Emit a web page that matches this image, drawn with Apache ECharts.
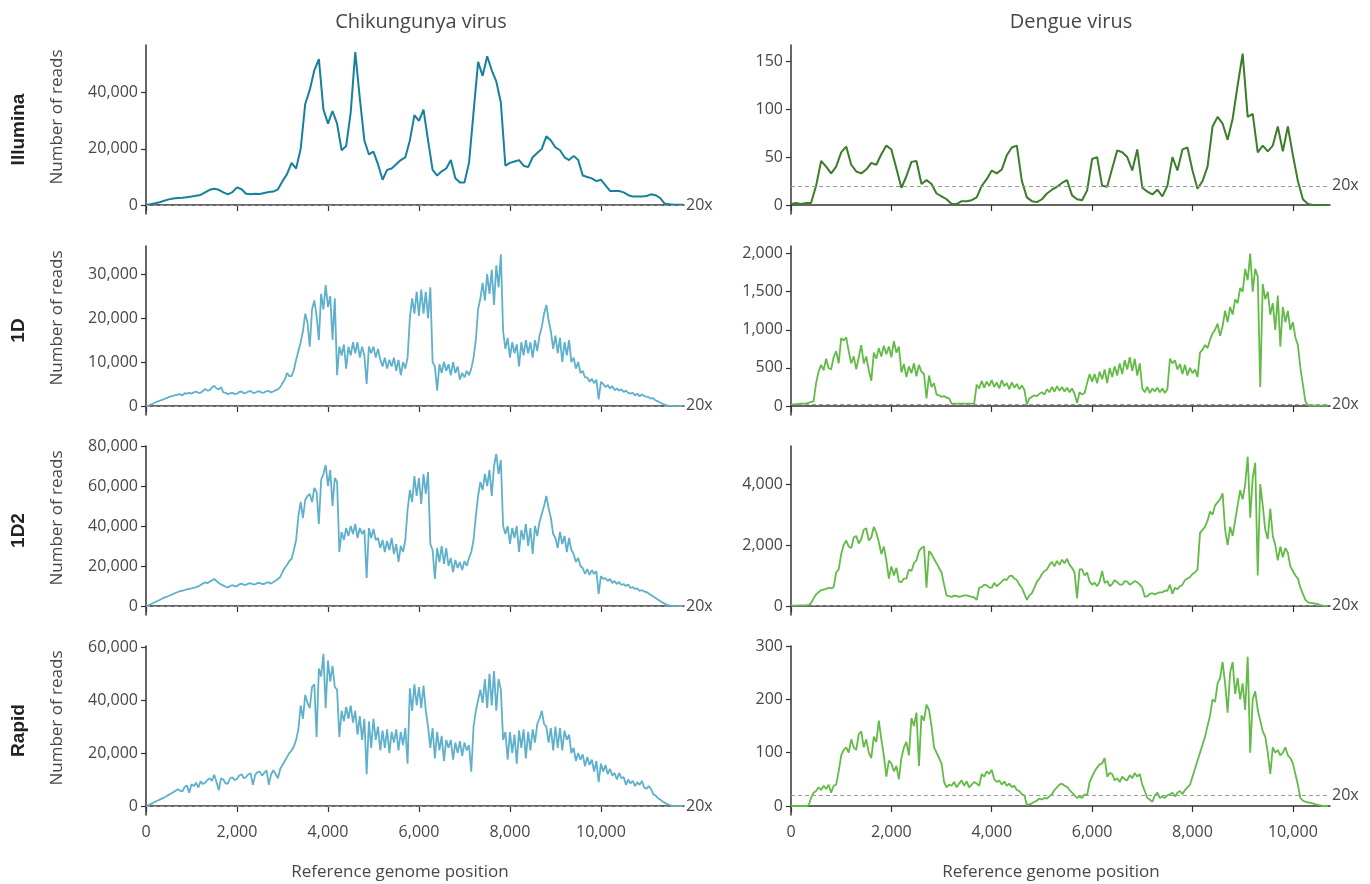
<!DOCTYPE html>
<html>
<head>
<meta charset="utf-8">
<script src="https://cdn.jsdelivr.net/npm/echarts@6/dist/echarts.min.js"></script>
<style>
  html, body { margin: 0; padding: 0; background: #ffffff; }
  #chart { width: 1370px; height: 884px; }
</style>
</head>
<body>
<div id="chart"></div>
<script>
// Genome lengths (bp) and coverage bin widths
const chikLength = 11826;
const dengueLength = 10740;
const illuminaBin = 100;
const nanoporeBin = 50;

const xTicks = [0, 2000, 4000, 6000, 8000, 10000];
const rowNames = ['Illumina', '1D', '1D2', 'Rapid'];
const columnTitles = ['Chikungunya virus', 'Dengue virus'];
const thresholdReads = 20;

// Read depth, Chikungunya virus (Illumina: 100 bp bins, nanopore: 50 bp bins)
const chikIllumina = [
  0, 300, 600, 1000, 1500, 2000, 2300, 2500, 2600, 2800, 3000, 3300, 3600, 4500, 5400, 5800, 5400, 4500, 3800, 4600,
  6300, 5600, 4000, 3800, 4000, 3900, 4300, 4600, 4800, 5600, 8500,
  11000, 15000, 13000, 20000, 36000, 41000, 48000, 52000, 34000, 29000,
  33500, 29000, 19500, 21000, 33000, 54500, 38000, 23000, 18000, 19000,
  14500, 9000, 12500, 13000, 14500, 16000, 17000, 23000, 32000, 30000,
  34000, 23000, 12500, 10500, 12000, 13000, 16000, 9500, 8000, 8000,
  15000, 33000, 51000, 46000, 53000, 48000, 44000, 36500, 14000, 15000,
  15500, 16000, 14000, 13500, 17000, 18500, 20000, 24500, 23000, 20500,
  19500, 17000, 16000, 17500, 16000, 10500, 10000, 9500, 8500, 9000,
  7000, 5000, 5000, 5000, 4500, 3500, 3000, 3000, 3000, 3200,
  3800, 3500, 2500, 500, 300, 100, 50, 50
];
const chik1D = [
  0, 100, 300, 500, 800, 1000, 1200, 1400, 1600, 1800, 2000, 2200, 2300, 2500, 2600, 2700, 2400, 2900, 2800, 3000,
  2800, 3100, 3300, 3000, 3000, 3400, 3900, 3500, 3600, 4200, 4600, 4000, 3800, 4300, 3100, 3000, 2700, 2900, 3000, 2700,
  2800, 3200, 3300, 2900, 3000, 3300, 3400, 3000, 3000, 3300, 3300, 3000, 3100, 3400, 3400, 3100, 3300, 3600, 3800, 4300,
  5200, 6000, 7500, 6800, 6800, 8200, 10500, 12500, 14500, 17000, 21000, 19000, 13500, 22000, 24000, 20500, 15000, 25500, 22000, 27500,
  22500, 25000, 15000, 24500, 7000, 13500, 11500, 14000, 8500, 13500, 11500, 14500, 12000, 14500, 11000, 13500, 11500, 5000, 13500, 12000,
  13500, 11000, 13000, 10500, 9000, 11000, 8500, 10500, 9000, 11000, 8000, 10500, 7000, 10000, 8500, 11000, 20000, 24500, 21000, 26000,
  20500, 26500, 21000, 26000, 20000, 27000, 10000, 9000, 3500, 9500, 7500, 10000, 8000, 9500, 7000, 10000, 7500, 9000, 6000, 7500,
  6500, 8000, 7000, 8500, 11000, 15000, 22000, 24500, 28000, 24000, 30000, 25500, 31000, 23000, 32000, 27000, 34500, 17000, 13000, 15500,
  11000, 14500, 12000, 14000, 9000, 14500, 11500, 15000, 12000, 14500, 11000, 15000, 12500, 16000, 18000, 21000, 23000, 19500, 17000, 13000,
  16000, 12000, 15500, 10000, 14500, 11500, 15000, 10000, 11000, 8500, 10000, 7500, 8000, 6500, 6500, 5500, 6200, 5200, 6000, 1500,
  5500, 5000, 4300, 4800, 4000, 4500, 3600, 4000, 3500, 3800, 3200, 3500, 3000, 2800, 3000, 2400, 2800, 2200, 2600, 2300,
  2100, 2000, 1700, 1800, 1300, 1100, 800, 500, 300, 150, 50, 30, 20, 20, 20, 20, 20
];
const chik1D2 = [
  0, 300, 800, 1400, 2000, 2500, 3000, 3600, 4200, 4600, 5000, 5600, 6000, 6600, 7000, 7500, 7600, 8000, 8300, 8600,
  8800, 9100, 9400, 9800, 10500, 11200, 11800, 11400, 12200, 12800, 13500, 12500, 11500, 10800, 10200, 9600, 9300, 10000, 10500, 9800,
  10000, 10800, 11200, 10600, 10600, 11200, 11400, 10800, 10800, 11500, 11500, 11000, 11000, 11700, 11800, 11200, 12000, 12600, 13500, 14500,
  17000, 19000, 20500, 22500, 23500, 28000, 33000, 45000, 52000, 44000, 53000, 55000, 56000, 52000, 59000, 57000, 41000, 63000, 66000, 70500,
  60000, 68000, 50000, 64000, 62000, 27000, 37000, 33000, 39000, 35000, 40000, 36000, 41000, 34000, 39000, 36000, 38000, 14000, 39000, 34000,
  38500, 33000, 34000, 29000, 33000, 27000, 32500, 28000, 34000, 26000, 31000, 22000, 30000, 27000, 33000, 48000, 58000, 52000, 65000, 55000,
  64000, 51000, 66000, 56000, 67000, 31000, 28000, 13500, 29000, 22000, 30000, 21000, 29000, 20000, 24000, 17000, 23000, 19000, 22000, 18000,
  22500, 20000, 24000, 27000, 33000, 45000, 55000, 62000, 58000, 66000, 60000, 68000, 55000, 70000, 76000, 66000, 73000, 40000, 36000, 40000,
  31000, 39000, 34000, 40000, 27000, 38000, 33000, 41000, 30000, 39000, 26000, 40000, 35000, 42000, 46000, 50000, 55000, 49000, 44000, 36000,
  34000, 29000, 37000, 31000, 35000, 27000, 34000, 28000, 26000, 22000, 24000, 20000, 19000, 16000, 18500, 15500, 18000, 16000, 17500, 6000,
  15000, 13500, 14000, 12500, 13500, 11500, 12500, 11000, 12000, 10500, 11000, 10000, 10800, 9000, 9500, 8500, 8800, 7500, 8000, 7200,
  7000, 6200, 5500, 4800, 4000, 3200, 2500, 1800, 1200, 600, 300, 100, 50, 20, 20, 20, 20
];
const chikRapid = [
  0, 300, 700, 1100, 1600, 2000, 2400, 2800, 3200, 3700, 4200, 4700, 5200, 5800, 6300, 5800, 5500, 7200, 7800, 5000,
  8200, 7500, 8800, 7000, 9300, 8300, 8800, 9800, 10500, 9500, 11800, 9000, 6000, 10500, 10000, 8500, 8500, 10500, 10800, 9800,
  10200, 11500, 12000, 10500, 11000, 12000, 12300, 8000, 11800, 12800, 13000, 11500, 12500, 13500, 8000, 12000, 13500, 12000, 10500, 14000,
  15500, 17000, 18500, 20000, 21000, 22500, 25000, 29000, 38000, 33000, 42000, 39000, 37000, 45000, 46000, 26000, 52000, 49000, 57500, 37000,
  55000, 47000, 53000, 45000, 44000, 26000, 36000, 32000, 37500, 33000, 38000, 31500, 36000, 27000, 34000, 25000, 33000, 12000, 32000, 22000,
  33000, 25000, 30000, 21000, 28500, 22000, 29000, 20000, 28000, 24000, 29000, 21000, 28000, 23000, 29500, 16000, 44500, 36000, 46000, 38000,
  45000, 37000, 45500, 36000, 30000, 22000, 29500, 18000, 28000, 21000, 26500, 17000, 25000, 22000, 25000, 17500, 24000, 20000, 24500, 19000,
  24000, 21000, 23000, 13000, 30000, 36000, 40000, 44000, 39000, 48000, 37000, 50000, 38000, 51000, 36000, 48000, 44000, 25000, 28000, 17500,
  28000, 20000, 27000, 16000, 28500, 22000, 29000, 18000, 28000, 21000, 29000, 24000, 31000, 33000, 36000, 31000, 30000, 24000, 29500, 21000,
  30000, 22000, 29500, 21000, 28500, 25000, 27000, 20000, 22000, 17000, 20000, 17500, 19500, 15000, 18500, 15500, 17500, 13000, 17000, 9000,
  16000, 13000, 15500, 12000, 14000, 11500, 12500, 10000, 12500, 10500, 11000, 8000, 10000, 8500, 9500, 7500, 9000, 8000, 9500, 7000,
  6500, 7500, 6500, 4500, 4000, 3000, 2500, 1800, 1200, 800, 400, 100, 50, 50, 50, 50, 50
];

// Read depth, Dengue virus (Illumina: 100 bp bins, nanopore: 50 bp bins)
const dengueIllumina = [
  1, 2, 1, 2, 2, 20, 46, 40, 33, 40, 55,
  61, 42, 35, 33, 37, 44, 42, 53, 62, 58,
  38, 18, 30, 45, 46, 22, 26, 22, 12, 9,
  6, 1, 1, 4, 4, 5, 8, 20, 27, 36,
  33, 37, 52, 60, 62, 25, 8, 4, 3, 6,
  12, 16, 19, 23, 26, 10, 6, 5, 15, 48,
  50, 20, 19, 38, 57, 55, 50, 36, 58, 18,
  14, 11, 16, 9, 20, 50, 36, 58, 60, 36,
  17, 25, 40, 82, 92, 85, 68, 90, 125, 158,
  92, 95, 55, 62, 56, 62, 82, 56, 82, 52,
  25, 6, 1, 0, 0, 0, 0
];
const dengue1D = [
  20, 22, 25, 28, 30, 32, 35, 40, 55, 60, 300, 450, 540, 470, 620, 500, 480, 640, 720, 560,
  890, 860, 900, 720, 560, 650, 480, 640, 800, 560, 650, 470, 330, 700, 620, 760, 650, 790, 680, 780,
  640, 850, 700, 780, 440, 550, 380, 520, 430, 560, 390, 540, 450, 420, 100, 400, 250, 300, 150, 140,
  120, 130, 110, 100, 30, 30, 30, 30, 30, 30, 30, 30, 30, 30, 280, 230, 330, 240, 320, 260,
  340, 250, 310, 230, 340, 260, 300, 220, 310, 240, 290, 220, 270, 210, 20, 100, 120, 140, 130, 160,
  180, 150, 220, 180, 250, 190, 260, 200, 250, 190, 240, 180, 230, 160, 40, 180, 150, 170, 300, 420,
  320, 420, 300, 450, 350, 480, 300, 500, 380, 520, 400, 560, 420, 600, 480, 640, 460, 620, 400, 560,
  230, 180, 250, 170, 230, 190, 240, 180, 230, 170, 220, 620, 560, 600, 480, 550, 420, 540, 400, 500,
  430, 480, 380, 700, 740, 800, 760, 870, 950, 1000, 1080, 920, 1050, 1250, 1100, 1300, 1200, 1400, 1350, 1550,
  1500, 1800, 1650, 2000, 1500, 1800, 1700, 250, 1600, 1400, 1500, 1200, 1350, 1000, 1450, 780, 1300, 1100, 1250, 1000,
  1100, 900, 800, 500, 280, 60, 10, 5, 5, 5, 5, 5, 5, 5, 5
];
const dengue1D2 = [
  10, 12, 15, 18, 20, 22, 25, 30, 100, 250, 380, 450, 520, 540, 560, 600, 580, 620, 1100, 1200,
  1700, 2000, 2150, 1950, 1900, 2250, 2300, 2050, 2200, 2500, 2550, 2150, 2250, 2600, 2400, 2100, 1700, 1950, 1500, 900,
  1300, 1000, 1250, 800, 780, 900, 900, 1200, 1150, 1400, 1500, 1800, 1900, 1950, 600, 1800, 1700, 1550, 1400, 1250,
  1100, 700, 350, 320, 300, 340, 330, 300, 320, 350, 350, 320, 300, 280, 200, 600, 620, 700, 680, 600,
  600, 760, 650, 720, 800, 880, 850, 980, 1000, 900, 850, 700, 600, 400, 200, 350, 420, 600, 800, 900,
  1050, 1150, 1200, 1350, 1450, 1300, 1480, 1350, 1520, 1400, 1550, 1350, 1250, 1100, 250, 1200, 1200, 1000, 1100, 800,
  700, 760, 650, 800, 1150, 750, 820, 650, 720, 850, 780, 700, 700, 820, 800, 700, 750, 820, 780, 700,
  600, 300, 320, 400, 420, 380, 420, 450, 450, 500, 500, 700, 400, 600, 550, 650, 700, 850, 900, 950,
  1050, 1100, 1200, 2400, 2500, 2600, 2800, 3100, 3000, 3300, 3400, 3500, 3700, 2500, 2000, 2600, 2300, 2800, 3300, 3800,
  3500, 4000, 4900, 2900, 4200, 4700, 1000, 4000, 3300, 2500, 2200, 3200, 2300, 2000, 1500, 1950, 1600, 1900, 1750, 1300,
  1150, 1000, 900, 600, 400, 200, 120, 100, 90, 80, 60, 30, 10, 5, 5
];
const dengueRapid = [
  0, 0, 0, 0, 0, 0, 0, 1, 15, 25, 28, 35, 30, 38, 32, 40, 25, 38, 40, 65,
  95, 105, 110, 100, 125, 110, 105, 135, 140, 110, 125, 100, 90, 130, 120, 160, 125, 95, 55, 85,
  80, 65, 75, 50, 90, 110, 120, 95, 165, 150, 175, 75, 170, 160, 190, 180, 150, 110, 100, 90,
  80, 45, 35, 40, 38, 45, 35, 42, 48, 38, 46, 35, 40, 45, 42, 38, 60, 55, 65, 60,
  68, 50, 45, 48, 40, 46, 38, 42, 35, 38, 30, 28, 22, 20, 2, 3, 5, 8, 10, 14,
  12, 15, 14, 18, 22, 30, 35, 40, 42, 38, 36, 30, 25, 20, 15, 18, 15, 22, 20, 45,
  55, 65, 72, 78, 80, 90, 55, 62, 60, 48, 52, 45, 55, 50, 48, 58, 52, 62, 55, 60,
  40, 28, 15, 12, 8, 20, 25, 15, 18, 15, 20, 22, 25, 18, 25, 28, 22, 30, 35, 40,
  55, 70, 85, 100, 115, 130, 150, 170, 200, 195, 230, 240, 270, 230, 175, 250, 270, 210, 240, 200,
  230, 180, 280, 100, 200, 215, 180, 160, 140, 130, 100, 60, 110, 100, 105, 95, 100, 110, 95, 90,
  80, 60, 40, 15, 10, 8, 7, 6, 5, 3, 2, 1, 0, 0, 0
];

// y-axis tick values and upper limits per row
const chikYTicks = [[0, 20000, 40000], [0, 10000, 20000, 30000], [0, 20000, 40000, 60000, 80000], [0, 20000, 40000, 60000]];
const chikYMax = [57000, 36400, 80000, 60500];
const dengueYTicks = [[0, 50, 100, 150], [0, 500, 1000, 1500, 2000], [0, 2000, 4000], [0, 100, 200, 300]];
const dengueYMax = [167, 2100, 5250, 300];

// Layout
const gridLeft = [146, 791];
const gridWidth = [538, 539];
const gridTop = [45, 246, 446, 646];
const gridHeight = 169;
const zeroGap = 9;
const titleX = [421, 1071];
const xNameX = [400, 1051];
const fontFamily = '"Open Sans", "Noto Sans", sans-serif';
const textColor = '#474747';
const axisColor = '#333333';

const palette = {
  chik: ['#17809e', '#5fb1cb', '#5fb1cb', '#5fb1cb'],
  dengue: ['#3a7d2a', '#63bb47', '#63bb47', '#63bb47']
};
const rowBins = [illuminaBin, nanoporeBin, nanoporeBin, nanoporeBin];
const rowLineWidth = [2, 1.8, 1.8, 1.8];

const columns = [
  { length: chikLength, series: [chikIllumina, chik1D, chik1D2, chikRapid], ticks: chikYTicks, max: chikYMax, colors: palette.chik },
  { length: dengueLength, series: [dengueIllumina, dengue1D, dengue1D2, dengueRapid], ticks: dengueYTicks, max: dengueYMax, colors: palette.dengue }
];

const fmt = v => String(v).replace(/\B(?=(\d{3})+(?!\d))/g, ',');

const grids = [], xAxes = [], yAxes = [], series = [];

rowNames.forEach((row, r) => {
  columns.forEach((col, c) => {
    const idx = grids.length;
    const yMax = col.max[r];
    grids.push({ left: gridLeft[c], top: gridTop[r], width: gridWidth[c], height: gridHeight });
    xAxes.push({
      gridIndex: idx,
      type: 'value',
      min: 0,
      max: col.length,
      axisLine: { show: true, lineStyle: { color: axisColor, width: 1.5 } },
      axisTick: { show: true, length: 6, customValues: xTicks, lineStyle: { color: axisColor, width: 1.2 } },
      axisLabel: {
        show: r === rowNames.length - 1,
        customValues: xTicks,
        formatter: fmt,
        fontFamily, fontSize: 16, color: textColor, margin: 9
      },
      splitLine: { show: false }
    });
    yAxes.push({
      gridIndex: idx,
      type: 'value',
      min: -yMax * zeroGap / (gridHeight - zeroGap),
      max: yMax,
      axisLine: { show: true, lineStyle: { color: axisColor, width: 1.5 } },
      axisTick: { show: true, length: 5, customValues: col.ticks[r], lineStyle: { color: axisColor, width: 1.2 } },
      axisLabel: {
        customValues: col.ticks[r],
        formatter: fmt,
        fontFamily, fontSize: 16, color: textColor, margin: 8
      },
      splitLine: { show: false }
    });
    series.push({
      type: 'line',
      xAxisIndex: idx,
      yAxisIndex: idx,
      data: col.series[r].map((v, i) => [i * rowBins[r], v]),
      showSymbol: false,
      silent: true,
      lineStyle: { color: col.colors[r], width: rowLineWidth[r] },
      z: 3,
      markLine: {
        silent: true,
        symbol: ['none', 'none'],
        animation: false,
        lineStyle: { type: [4, 3], color: '#9b9b9b', width: 1 },
        label: { show: true, position: 'end', formatter: '20x', fontFamily, fontSize: 16, color: textColor, distance: 2 },
        data: [{ yAxis: thresholdReads }]
      }
    });
  });
});

const graphics = [];
columnTitles.forEach((t, c) => {
  graphics.push({
    type: 'text', x: titleX[c], y: 22,
    style: { text: t, font: '20px ' + fontFamily, fill: textColor, textAlign: 'center', textVerticalAlign: 'middle' }
  });
  graphics.push({
    type: 'text', x: xNameX[c], y: 872,
    style: { text: 'Reference genome position', font: '17px ' + fontFamily, fill: textColor, textAlign: 'center', textVerticalAlign: 'middle' }
  });
});
rowNames.forEach((name, r) => {
  graphics.push({
    type: 'text', x: 19, y: gridTop[r] + gridHeight / 2, rotation: Math.PI / 2,
    style: { text: name, font: 'bold 19px "Liberation Sans", Arial, sans-serif', fill: '#222222', textAlign: 'center', textVerticalAlign: 'middle' }
  });
  graphics.push({
    type: 'text', x: 57, y: gridTop[r] + 72, rotation: Math.PI / 2,
    style: { text: 'Number of reads', font: '17px ' + fontFamily, fill: textColor, textAlign: 'center', textVerticalAlign: 'middle' }
  });
});

const chart = echarts.init(document.getElementById('chart'));
chart.setOption({
  animation: false,
  backgroundColor: '#ffffff',
  grid: grids,
  xAxis: xAxes,
  yAxis: yAxes,
  series: series,
  graphic: graphics
});
</script>
</body>
</html>
